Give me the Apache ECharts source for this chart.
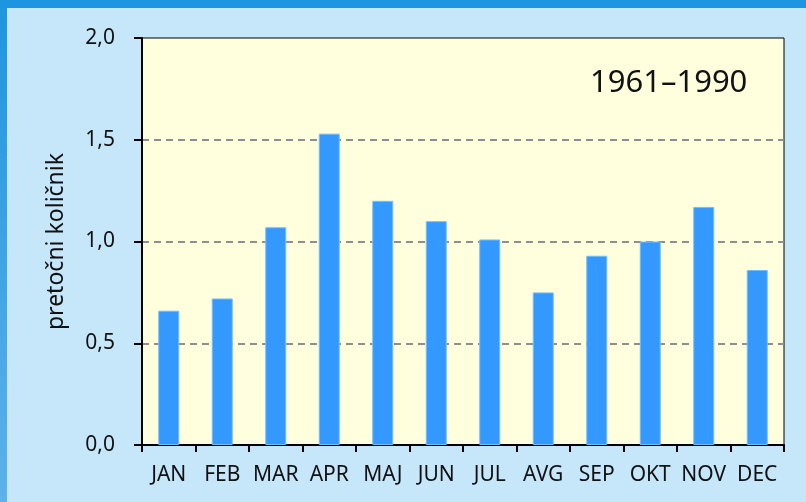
<!DOCTYPE html>
<html>
<head>
<meta charset="utf-8">
<script src="https://cdn.jsdelivr.net/npm/echarts@6/dist/echarts.min.js"></script>
<style>
  html, body { margin: 0; padding: 0; background: #c6e6fa; }
  #chart { width: 806px; height: 502px; }
</style>
</head>
<body>
<div id="chart"></div>
<script>
// mjeseci i pretočni količnik 1961-1990
const months = ["JAN", "FEB", "MAR", "APR", "MAJ", "JUN", "JUL", "AVG", "SEP", "OKT", "NOV", "DEC"];
const ratios = [0.66, 0.72, 1.07, 1.53, 1.20, 1.10, 1.01, 0.75, 0.93, 1.00, 1.17, 0.86];
const yTicks = [0, 0.5, 1.0, 1.5, 2.0];
const periodLabel = "1961–1990";
const yName = "pretočni količnik";

const chart = echarts.init(document.getElementById("chart"));
const font = "Noto Sans";

const option = {
  backgroundColor: "#c6e6fa",
  animation: false,
  textStyle: { fontFamily: font },
  graphic: [
    // okvir lijevo i gore
    {
      type: "rect", left: 0, top: 0, z: 100,
      shape: { width: 806, height: 8 },
      style: { fill: "#1e95e0" }
    },
    {
      type: "rect", left: 0, top: 0, z: 100,
      shape: { width: 7, height: 502 },
      style: {
        fill: new echarts.graphic.LinearGradient(0, 0, 0, 1, [
          { offset: 0, color: "#1e95e0" },
          { offset: 1, color: "#5cb2ea" }
        ])
      }
    },
    {
      type: "text", left: 590, top: 68, z: 100,
      style: { text: periodLabel, fontSize: 31, fontFamily: font, fill: "#111" }
    }
  ],
  grid: {
    left: 142, top: 38, right: 22, bottom: 57,
    show: true,
    backgroundColor: "#ffffdd",
    borderColor: "#000",
    borderWidth: 1
  },
  xAxis: {
    type: "category",
    data: months,
    axisLine: { lineStyle: { color: "#000", width: 2 } },
    axisTick: { show: true, length: 7, interval: 0, lineStyle: { color: "#000", width: 2 } },
    axisLabel: { color: "#111", fontSize: 21, margin: 20, fontFamily: font, interval: 0 },
    splitLine: { show: false }
  },
  yAxis: {
    type: "value",
    min: yTicks[0],
    max: yTicks[yTicks.length - 1],
    interval: 0.5,
    name: yName,
    nameLocation: "middle",
    nameGap: 74,
    nameTextStyle: { fontSize: 23, color: "#111", fontFamily: font },
    axisLine: { show: true, lineStyle: { color: "#000", width: 2 } },
    axisTick: { show: true, length: 8, lineStyle: { color: "#000", width: 2 } },
    axisLabel: {
      color: "#111", fontSize: 21, margin: 27, fontFamily: font,
      formatter: v => v.toFixed(1).replace(".", ",")
    },
    splitLine: {
      show: true,
      showMinLine: false,
      showMaxLine: false,
      lineStyle: { color: "#8e8e8e", width: 2, type: [7, 5] }
    }
  },
  series: [{
    type: "bar",
    data: ratios,
    barWidth: 21,
    itemStyle: { color: "#3399ff", borderColor: "#74bdfb", borderWidth: 1 }
  }]
};

chart.setOption(option);
</script>
</body>
</html>
